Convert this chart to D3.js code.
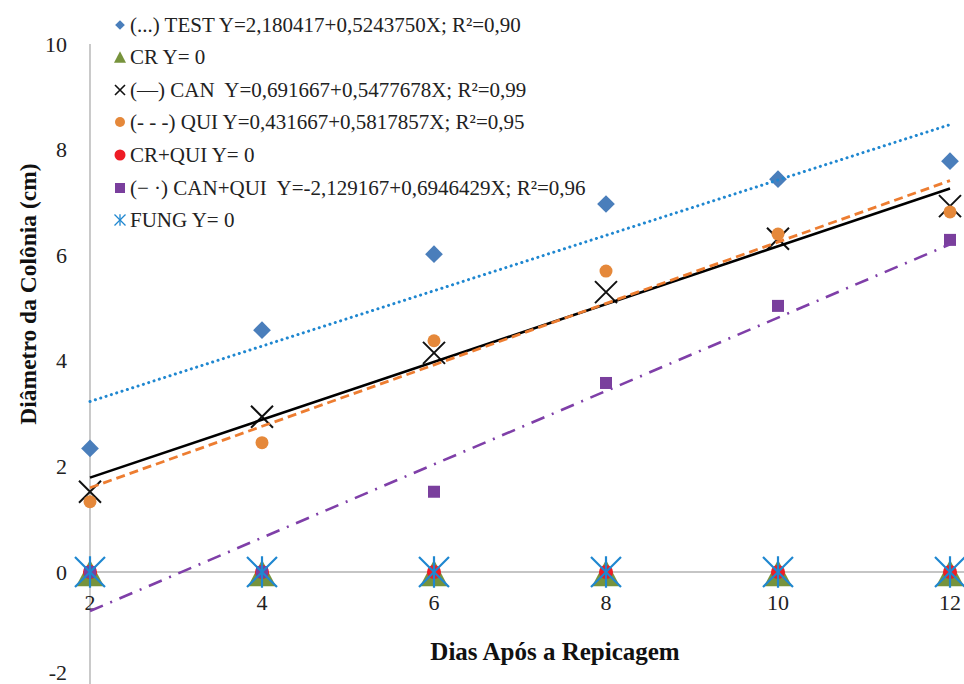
<!DOCTYPE html>
<html>
<head>
<meta charset="utf-8">
<script src="https://cdn.jsdelivr.net/npm/d3@7/dist/d3.min.js"></script>
<style>
body { margin:0; background:#fff; }
</style>
</head>
<body>
<script>
// days after transfer (x) and colony diameter per treatment (cm)
var dias = [2, 4, 6, 8, 10, 12];
var test = [2.34, 4.58, 6.02, 6.97, 7.44, 7.78];
var cr = [0, 0, 0, 0, 0, 0];
var can = [1.52, 2.94, 4.15, 5.30, 6.31, 6.93];
var qui = [1.33, 2.45, 4.38, 5.70, 6.40, 6.82];
var crQui = [0, 0, 0, 0, 0, 0];
var canQui = [0, 0, 1.52, 3.58, 5.04, 6.29];
var fung = [0, 0, 0, 0, 0, 0];

// trend line coefficients as printed in the legend
var trendNames = ["TEST", "CAN", "QUI", "CAN+QUI"];
var trendA = [2.180417, 0.691667, 0.431667, -2.129167];
var trendB = [0.5243750, 0.5477678, 0.5817857, 0.6946429];

var yTicks = [-2, 0, 2, 4, 6, 8, 10];
var xTicks = [2, 4, 6, 8, 10, 12];

var legendLabels = [
	"(...) TEST Y=2,180417+0,5243750X; R²=0,90",
	"CR Y= 0",
	"(—) CAN  Y=0,691667+0,5477678X; R²=0,99",
	"(- - -) QUI Y=0,431667+0,5817857X; R²=0,95",
	"CR+QUI Y= 0",
	"(− ·) CAN+QUI  Y=-2,129167+0,6946429X; R²=0,96",
	"FUNG Y= 0"
];

var FONT = "\"Liberation Serif\"";
var width = 964, height = 684;

var svg = d3.select("body").append("svg").attr("width", width).attr("height", height);

var x = d3.scaleLinear().domain([2, 12]).range([90, 950]);
var y = d3.scaleLinear().domain([-2, 10]).range([677.6, 44]);

// axis lines
svg.append("line").attr("x1", x(2)).attr("x2", width).attr("y1", y(0)).attr("y2", y(0))
	.style("stroke", "#8c8c8c").style("stroke-width", 1.2);
svg.append("line").attr("x1", x(2)).attr("x2", x(2)).attr("y1", y(10)).attr("y2", height)
	.style("stroke", "#a6a6a6").style("stroke-width", 1.2);

// y tick labels
svg.append("g").selectAll("text").data(yTicks).enter().append("text")
	.style("font-family", FONT).style("fill", "#222")
	.attr("x", x(2) - 23).attr("y", function(d){ return Math.min(y(d) + 7.5, 680); })
	.attr("text-anchor", "end").style("font-size", "22px").text(function(d){ return d; });

// x tick labels
svg.append("g").selectAll("text").data(xTicks).enter().append("text")
	.style("font-family", FONT).style("fill", "#222")
	.attr("x", function(d){ return x(d); }).attr("y", y(0) + 38)
	.attr("text-anchor", "middle").style("font-size", "22px").text(function(d){ return d; });

// axis titles
svg.append("text").attr("x", 555).attr("y", 660).attr("text-anchor", "middle")
	.style("font-family", FONT).style("fill", "#111")
	.style("font-size", "25px").style("font-weight", "bold").text("Dias Após a Repicagem");
svg.append("text").attr("transform", "translate(36,294)rotate(-90)").attr("text-anchor", "middle")
	.style("font-family", FONT).style("fill", "#111")
	.style("font-size", "23.5px").style("font-weight", "bold").text("Diâmetro da Colônia (cm)");

// marker shapes
function diamond(g, cx, cy, s) {
	g.append("path").attr("d", d3.symbol().type(d3.symbolDiamond2).size(s)())
		.attr("transform", "translate(" + cx + "," + cy + ")").style("fill", "#4a7ebb");
}
function triangle(g, cx, cy, w) {
	var h = w * 0.95;
	g.append("path").attr("d", "M" + cx + "," + (cy - h / 2) + "L" + (cx + w / 2) + "," + (cy + h / 2) + "L" + (cx - w / 2) + "," + (cy + h / 2) + "Z")
		.style("fill", "#77933c");
}
function cross(g, cx, cy, r, col, sw) {
	g.append("path").attr("d", "M" + (cx - r) + "," + (cy - r) + "L" + (cx + r) + "," + (cy + r) + "M" + (cx - r) + "," + (cy + r) + "L" + (cx + r) + "," + (cy - r))
		.style("stroke", col).style("stroke-width", sw).style("fill", "none");
}
function circle(g, cx, cy, r, col) {
	g.append("circle").attr("cx", cx).attr("cy", cy).attr("r", r).style("fill", col);
}
function square(g, cx, cy, s) {
	g.append("rect").attr("x", cx - s / 2).attr("y", cy - s / 2).attr("width", s).attr("height", s).style("fill", "#7a3f9d");
}
function star(g, cx, cy, r, sw) {
	cross(g, cx, cy, r, "#1f87d0", sw);
	g.append("line").attr("x1", cx).attr("x2", cx).attr("y1", cy - r * 1.05).attr("y2", cy + r * 1.05)
		.style("stroke", "#1f87d0").style("stroke-width", sw);
}

// points, drawn in series order
var pts = svg.append("g");
dias.forEach(function(d, i){ diamond(pts, x(d), y(test[i]), 200); });
dias.forEach(function(d, i){ triangle(pts, x(d), y(cr[i]) + 1, 28); });
dias.forEach(function(d, i){ cross(pts, x(d), y(can[i]), 11, "#111", 2); });
dias.forEach(function(d, i){ circle(pts, x(d), y(qui[i]), 6.5, "#e5883a"); });
dias.forEach(function(d, i){ circle(pts, x(d), y(crQui[i]), 7, "#ee1c25"); });
dias.forEach(function(d, i){ square(pts, x(d), y(canQui[i]), 12); });
dias.forEach(function(d, i){ star(pts, x(d), y(fung[i]), 15, 2.2); });

// trend lines
var trendStyle = [
	{ col: "#1f87d0", w: 3, dash: "0.1,5.5", cap: "round" },
	{ col: "#000", w: 2.6, dash: null, cap: "butt" },
	{ col: "#ed7d31", w: 2.8, dash: "9,5", cap: "butt" },
	{ col: "#7f3fa8", w: 2.6, dash: "14,8,2,8", cap: "butt" }
];
var line = d3.line().x(function(d){ return x(d[0]); }).y(function(d){ return y(d[1]); });
var trends = svg.append("g");
trendNames.forEach(function(n, i){
	var ends = [2, 12].map(function(d){ return [d, trendA[i] + trendB[i] * d]; });
	trends.append("path").attr("d", line(ends)).style("fill", "none")
		.style("stroke", trendStyle[i].col).style("stroke-width", trendStyle[i].w)
		.style("stroke-dasharray", trendStyle[i].dash).style("stroke-linecap", trendStyle[i].cap);
});

// legend
var leg = svg.append("g");
var legY = [25, 57, 90, 122, 155, 188, 220];
legendLabels.forEach(function(t, i){
	var cy = legY[i], cx = 120;
	if (i == 0) diamond(leg, cx, cy, 60);
	if (i == 1) triangle(leg, cx, cy, 12);
	if (i == 2) cross(leg, cx, cy, 5, "#111", 1.6);
	if (i == 3) circle(leg, cx, cy, 5, "#e5883a");
	if (i == 4) circle(leg, cx, cy, 5.5, "#ee1c25");
	if (i == 5) square(leg, cx, cy, 10);
	if (i == 6) star(leg, cx, cy, 5.5, 1.3);
	leg.append("text").attr("x", 130).attr("y", cy + 7)
		.style("font-family", FONT).style("fill", "#222")
		.style("white-space", "pre")
		.style("font-size", "21px").text(t);
});
</script>
</body>
</html>
